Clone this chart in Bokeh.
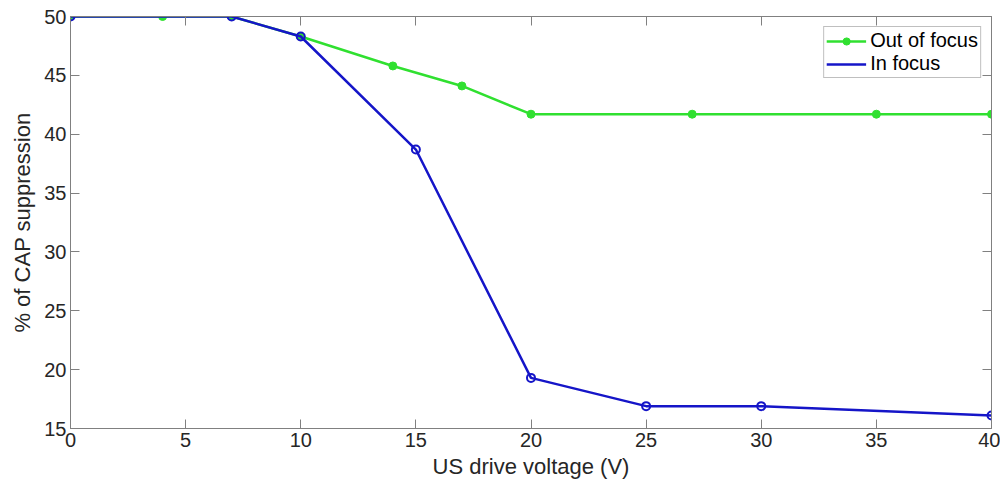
from bokeh.plotting import figure
from bokeh.models import Range1d, LinearAxis, FixedTicker, Legend
from bokeh.embed import file_html
from bokeh.resources import INLINE

# Data
out_x = [0, 4, 7, 10, 14, 17, 20, 27, 35, 40]
out_y = [50, 50, 50, 48.3, 45.8, 44.1, 41.7, 41.7, 41.7, 41.7]
in_x = [0, 7, 10, 15, 20, 25, 30, 40]
in_y = [50, 50, 48.3, 38.7, 19.3, 16.9, 16.9, 16.1]
x_ticks = [0, 5, 10, 15, 20, 25, 30, 35, 40]
y_ticks = [15, 20, 25, 30, 35, 40, 45, 50]

GREEN = "#30e030"
BLUE = "#1515c8"
AXC = "#808080"
TXT = "#262626"
FONT = "Liberation Sans"

p = figure(frame_width=921, frame_height=412, output_backend="svg", toolbar_location=None,
           x_range=Range1d(0, 40), y_range=Range1d(15, 50),
           min_border_left=70, min_border_right=9, min_border_top=16, min_border_bottom=55)
p.xgrid.visible = False
p.ygrid.visible = False
p.outline_line_color = AXC
p.outline_line_width = 1
p.background_fill_color = "white"
p.border_fill_color = "white"

for ax, ticks in ((p.xaxis[0], x_ticks), (p.yaxis[0], y_ticks)):
    ax.ticker = FixedTicker(ticks=ticks)
    ax.major_tick_in = 9
    ax.major_tick_out = 0
    ax.minor_tick_line_color = None
    ax.axis_line_color = AXC
    ax.major_tick_line_color = AXC
    ax.major_label_text_font = FONT
    ax.major_label_text_font_size = "20px"
    ax.major_label_text_color = TXT
    ax.axis_label_text_font = FONT
    ax.axis_label_text_font_size = "22px"
    ax.axis_label_text_font_style = "normal"
    ax.axis_label_text_color = TXT

p.xaxis.axis_label = "US drive voltage (V)"
p.yaxis.axis_label = "% of CAP suppression"
p.xaxis.major_label_standoff = 4
p.yaxis.major_label_standoff = 4
p.xaxis.axis_label_standoff = 4
p.yaxis.axis_label_standoff = 6

top = LinearAxis(ticker=FixedTicker(ticks=x_ticks))
right = LinearAxis(ticker=FixedTicker(ticks=y_ticks))
for ax, ticks in ((top, x_ticks), (right, y_ticks)):
    ax.major_tick_in = 9
    ax.major_tick_out = 0
    ax.minor_tick_line_color = None
    ax.axis_line_color = AXC
    ax.major_tick_line_color = AXC
    ax.major_label_overrides = {t: "" for t in ticks}
    ax.major_label_text_font_size = "1px"
    ax.major_label_text_color = None
    ax.major_label_standoff = 0
p.add_layout(top, "above")
p.add_layout(right, "right")

gl = p.line(out_x, out_y, line_color=GREEN, line_width=2.5)
gs = p.scatter(out_x, out_y, size=8, marker="circle", fill_color=GREEN, line_color=GREEN)
bl = p.line(in_x, in_y, line_color=BLUE, line_width=2.5)
bs = p.scatter(in_x, in_y, size=8, marker="circle", fill_color=None, line_color=BLUE, line_width=2)
bleg = p.scatter([], [], size=6, marker="circle", fill_color=BLUE, line_color=BLUE)

legend = Legend(items=[("Out of focus", [gl, gs]), ("In focus", [bl, bleg])],
                location="top_right", margin=10)
legend.label_text_font = FONT
legend.label_text_font_size = "20px"
legend.label_text_line_height = 0.85
legend.label_text_color = "black"
legend.label_height = 18
legend.label_standoff = 4
legend.glyph_width = 40
legend.glyph_height = 18
legend.spacing = 0
legend.padding = 2
legend.border_line_color = AXC
legend.border_line_width = 1
legend.background_fill_alpha = 1
p.add_layout(legend, "center")

open("out.html", "w").write(file_html(p, INLINE))
